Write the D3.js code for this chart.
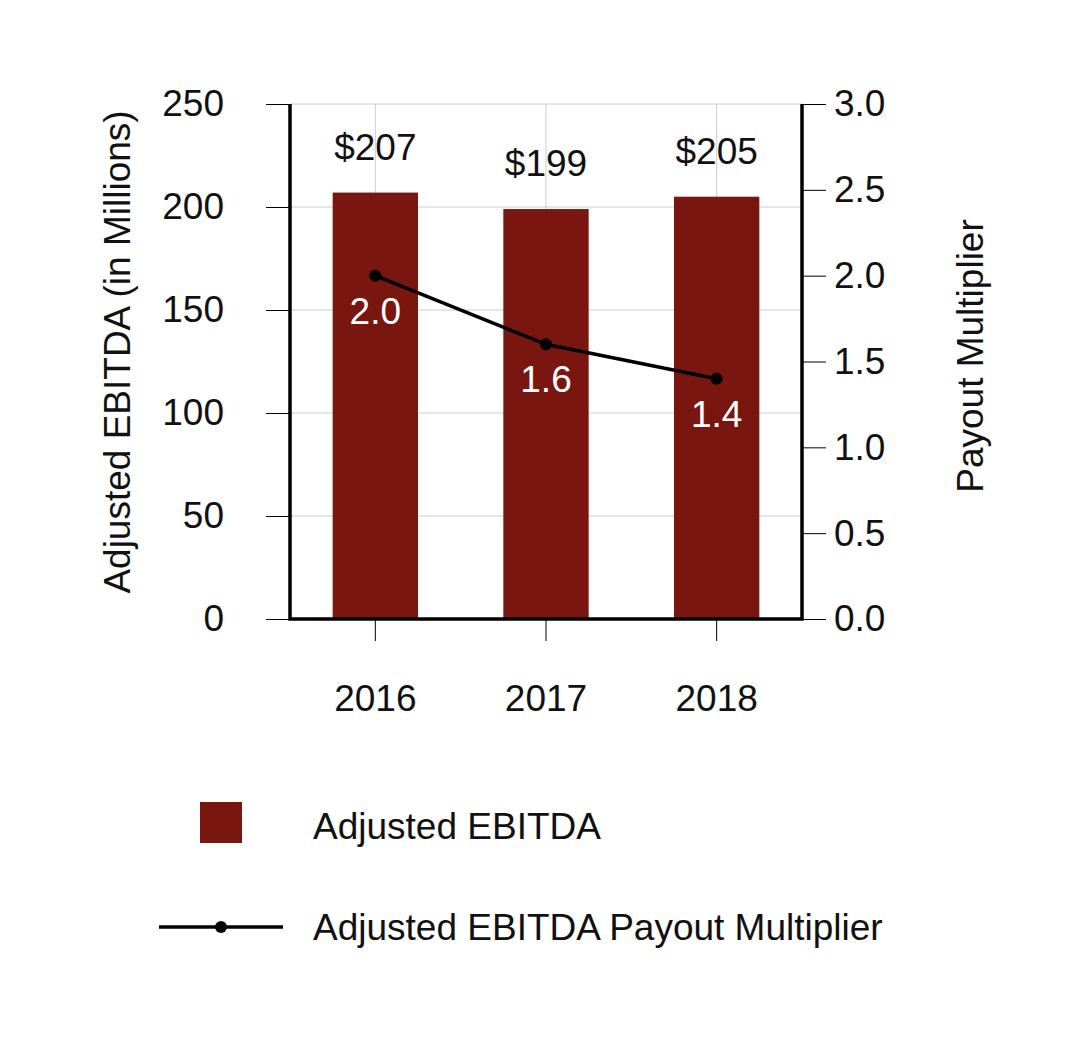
<!DOCTYPE html>
<html>
<head>
<meta charset="utf-8">
<script src="https://cdn.jsdelivr.net/npm/d3@7"></script>
<style>
  body { margin: 0; background: #fff; }
  text { font-family: "Liberation Sans", Arial, sans-serif; }
</style>
</head>
<body>
<div id="chart"></div>
<script>
const years = ["2016", "2017", "2018"];
const ebitda = [207, 199, 205];
const multiplier = [2.0, 1.6, 1.4];
const leftTicks = [0, 50, 100, 150, 200, 250];
const rightTicks = [0, 0.5, 1, 1.5, 2, 2.5, 3];

const W = 1083, H = 1041;
const plot = {left: 290, right: 802, top: 104, bottom: 619};
const barColor = "#7a1610";
const fs = 37;

const svg = d3.select("#chart").append("svg")
  .attr("width", W).attr("height", H);

const x = d3.scaleBand()
  .domain(years)
  .range([plot.left, plot.right])
  .paddingInner(0.5)
  .paddingOuter(0.25);

const yL = d3.scaleLinear().domain([0, 250]).range([plot.bottom, plot.top]);
const yR = d3.scaleLinear().domain([0, 3]).range([plot.bottom, plot.top]);

// grid lines
svg.append("g")
  .selectAll("line.h")
  .data(leftTicks)
  .join("line")
  .attr("x1", plot.left).attr("x2", plot.right)
  .attr("y1", d => yL(d)).attr("y2", d => yL(d))
  .attr("stroke", "#cccccc").attr("stroke-width", 1);

svg.append("g")
  .selectAll("line.v")
  .data(years)
  .join("line")
  .attr("x1", d => x(d) + x.bandwidth() / 2).attr("x2", d => x(d) + x.bandwidth() / 2)
  .attr("y1", plot.top).attr("y2", plot.bottom)
  .attr("stroke", "#cccccc").attr("stroke-width", 1);

// bars
svg.append("g")
  .selectAll("rect")
  .data(years)
  .join("rect")
  .attr("x", d => x(d))
  .attr("width", x.bandwidth())
  .attr("y", (d, i) => yL(ebitda[i]))
  .attr("height", (d, i) => plot.bottom - yL(ebitda[i]))
  .attr("fill", barColor);

// bar value labels
svg.append("g")
  .selectAll("text")
  .data(years)
  .join("text")
  .attr("x", d => x(d) + x.bandwidth() / 2)
  .attr("y", (d, i) => yL(ebitda[i]) - 33)
  .attr("text-anchor", "middle")
  .attr("font-size", fs)
  .attr("fill", "#111")
  .text((d, i) => "$" + ebitda[i]);

// left axis
const axL = svg.append("g").attr("transform", `translate(${plot.left},0)`)
  .call(d3.axisLeft(yL).tickValues(leftTicks).tickSize(24).tickPadding(42).tickSizeOuter(0));
axL.select(".domain").remove();
axL.selectAll("line").attr("stroke", "#000");
axL.selectAll("text").attr("font-size", fs).attr("fill", "#111")
  .attr("font-family", "Liberation Sans, Arial, sans-serif");

// right axis
const axR = svg.append("g").attr("transform", `translate(${plot.right},0)`)
  .call(d3.axisRight(yR).tickValues(rightTicks).tickFormat(d3.format(".1f")).tickSize(24).tickPadding(8).tickSizeOuter(0));
axR.select(".domain").remove();
axR.selectAll("line").attr("stroke", "#000");
axR.selectAll("text").attr("font-size", fs).attr("fill", "#111")
  .attr("font-family", "Liberation Sans, Arial, sans-serif");

// bottom axis
const axB = svg.append("g").attr("transform", `translate(0,${plot.bottom})`)
  .call(d3.axisBottom(x).tickSize(22).tickPadding(44).tickSizeOuter(0));
axB.select(".domain").remove();
axB.selectAll("line").attr("stroke", "#000");
axB.selectAll("text").attr("font-size", fs).attr("fill", "#111")
  .attr("font-family", "Liberation Sans, Arial, sans-serif");

// frame lines (left, bottom, right)
svg.append("path")
  .attr("d", `M${plot.left},${plot.top}V${plot.bottom}H${plot.right}V${plot.top}`)
  .attr("fill", "none").attr("stroke", "#000").attr("stroke-width", 3.5);

// multiplier line
const line = d3.line()
  .x((d, i) => x(years[i]) + x.bandwidth() / 2)
  .y(d => yR(d));

svg.append("path")
  .datum(multiplier)
  .attr("d", line)
  .attr("fill", "none").attr("stroke", "#000").attr("stroke-width", 3.5);

svg.append("g")
  .selectAll("circle")
  .data(multiplier)
  .join("circle")
  .attr("cx", (d, i) => x(years[i]) + x.bandwidth() / 2)
  .attr("cy", d => yR(d))
  .attr("r", 6)
  .attr("fill", "#000");

svg.append("g")
  .selectAll("text")
  .data(multiplier)
  .join("text")
  .attr("x", (d, i) => x(years[i]) + x.bandwidth() / 2)
  .attr("y", d => yR(d) + 48)
  .attr("text-anchor", "middle")
  .attr("font-size", fs)
  .attr("fill", "#fff")
  .text(d => d.toFixed(1));

// axis titles
svg.append("text")
  .attr("transform", "translate(130,352) rotate(-90)")
  .attr("text-anchor", "middle")
  .attr("font-size", fs).attr("fill", "#111")
  .text("Adjusted EBITDA (in Millions)");

svg.append("text")
  .attr("transform", "translate(983,356) rotate(-90)")
  .attr("text-anchor", "middle")
  .attr("font-size", fs).attr("fill", "#111")
  .text("Payout Multiplier");

// legend
const lg = svg.append("g");
lg.append("rect")
  .attr("x", 200).attr("y", 802).attr("width", 42).attr("height", 41)
  .attr("fill", barColor);
lg.append("text")
  .attr("x", 313).attr("y", 839)
  .attr("font-size", fs).attr("fill", "#111")
  .text("Adjusted EBITDA");
lg.append("line")
  .attr("x1", 159).attr("x2", 283).attr("y1", 927).attr("y2", 927)
  .attr("stroke", "#000").attr("stroke-width", 3.5);
lg.append("circle")
  .attr("cx", 221).attr("cy", 927).attr("r", 6).attr("fill", "#000");
lg.append("text")
  .attr("x", 313).attr("y", 940)
  .attr("font-size", fs).attr("fill", "#111")
  .text("Adjusted EBITDA Payout Multiplier");
</script>
</body>
</html>
